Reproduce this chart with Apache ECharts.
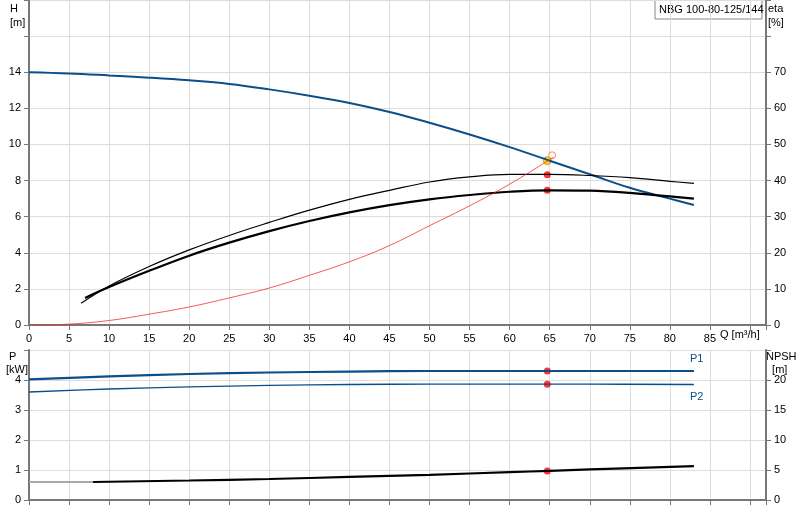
<!DOCTYPE html><html><head><meta charset="utf-8"><script src="https://cdn.jsdelivr.net/npm/echarts@6/dist/echarts.min.js"></script></head><body style="margin:0"><div id="c" style="width:800px;height:520px"></div><script>
const qH=[0,5,10,15,20,25,30,35,40,45,50,55,60,65,70,75,80,83];
const hVals=[14,13.93,13.82,13.7,13.55,13.35,13.05,12.7,12.3,11.8,11.2,10.55,9.85,9.1,8.35,7.6,7.0,6.65];
const qEtaThick=[7,10,15,20,25,30,35,40,45,50,55,60,65,70,75,80,83];
const etaThick=[7.5,10.5,15,19.2,22.8,26,28.8,31.2,33.2,34.8,36,36.9,37.3,37.2,36.6,35.6,35];
const qEtaThin=[6.5,10,15,20,25,30,35,40,45,50,55,60,65,70,75,80,83];
const etaThin=[6,10.8,16.2,20.8,24.8,28.4,31.8,34.8,37.3,39.6,41,41.7,41.7,41.4,40.8,39.8,39.2];
const qSys=[0,5,10,15,20,25,30,35,40,45,50,55,60,65.5];
const hSys=[0,0.05,0.25,0.6,1.0,1.5,2.05,2.75,3.5,4.4,5.5,6.6,7.8,9.3];
const qP=[0,10,20,30,40,50,60,65,70,83];
const p1=[4.02,4.12,4.2,4.25,4.28,4.3,4.3,4.3,4.3,4.3];
const p2=[3.6,3.7,3.77,3.82,3.85,3.86,3.86,3.86,3.86,3.85];
const qN=[8,20,30,40,50,60,65,70,83];
const npshP=[0.6,0.65,0.7,0.77,0.84,0.93,0.97,1.02,1.13];
const dutyQ=64.7, dutyH=9.1, dutyEtaThin=41.6, dutyEtaThick=37.3, dutyP1=4.3, dutyP2=3.86, dutyN=0.97;
const z=(a,b)=>a.map((x,i)=>[x,b[i]]);
const ch=echarts.init(document.getElementById('c'));
const ax={axisLine:{show:true,lineStyle:{color:'#777',width:2}},axisTick:{show:true,lineStyle:{color:'#777'}},splitLine:{lineStyle:{color:'#ddd'}},axisLabel:{color:'#000',fontSize:11,fontFamily:'Arial'}};
const ln=(xi,yi,d,c,w,extra)=>Object.assign({type:'line',xAxisIndex:xi,yAxisIndex:yi,data:d,showSymbol:false,smooth:0.4,lineStyle:{color:c,width:w},silent:true},extra||{});
ch.setOption({animation:false,
grid:[{left:29,right:34,top:0,height:325},{left:29,right:34,top:350,height:150}],
xAxis:[Object.assign({},ax,{gridIndex:0,type:'value',min:0,max:92,interval:5,axisLabel:Object.assign({},ax.axisLabel,{formatter:v=>v<=85?v:''})}),
Object.assign({},ax,{gridIndex:1,type:'value',min:0,max:92,interval:5,axisLabel:{show:false}})],
yAxis:[Object.assign({},ax,{gridIndex:0,min:0,max:18,interval:2,axisLabel:Object.assign({},ax.axisLabel,{formatter:v=>v<=14?v:''})}),
Object.assign({},ax,{gridIndex:0,position:'right',min:0,max:90,interval:10,splitLine:{show:false},axisLabel:Object.assign({},ax.axisLabel,{formatter:v=>v<=70?v:''})}),
Object.assign({},ax,{gridIndex:1,min:0,max:5,interval:1,axisLabel:Object.assign({},ax.axisLabel,{formatter:v=>v<=4?v:''})}),
Object.assign({},ax,{gridIndex:1,position:'right',min:0,max:25,interval:5,splitLine:{show:false},axisLabel:Object.assign({},ax.axisLabel,{formatter:v=>v<=20?v:''})})],
series:[
ln(0,0,z(qH,hVals),'#0b4f8a',2),
ln(0,1,z(qEtaThin,etaThin),'#000',1.2),
ln(0,1,z(qEtaThick,etaThick),'#000',2.2),
ln(0,0,z(qSys,hSys),'#f03030',0.8),
ln(1,2,z(qP,p1),'#0b4f8a',2.2,{endLabel:{show:true,formatter:'P1',color:'#0b4f8a',fontSize:11,offset:[-12,-12]}}),
ln(1,2,z(qP,p2),'#0b4f8a',1.3,{endLabel:{show:true,formatter:'P2',color:'#0b4f8a',fontSize:11,offset:[-12,12]}}),
ln(1,2,[[0,0.6],[8,0.6]],'#aaa',2,{smooth:false}),
ln(1,2,z(qN,npshP),'#000',2.2),
{type:'scatter',xAxisIndex:0,yAxisIndex:0,data:[[65.3,9.4]],symbolSize:7,itemStyle:{color:'#fff',borderColor:'#f07030',borderWidth:1}},
{type:'scatter',xAxisIndex:0,yAxisIndex:0,data:[[dutyQ,dutyH]],symbolSize:8,itemStyle:{color:'#ffcc00',borderColor:'#e08000',borderWidth:1}},
{type:'scatter',xAxisIndex:0,yAxisIndex:1,data:[[dutyQ,dutyEtaThin],[dutyQ,dutyEtaThick]],symbolSize:7,itemStyle:{color:'#ff0000'}},
{type:'scatter',xAxisIndex:1,yAxisIndex:2,data:[[dutyQ,dutyP1],[dutyQ,dutyP2],[dutyQ,dutyN]],symbolSize:7,itemStyle:{color:'#ff0000'}}
],
graphic:[
{type:'text',left:10,top:2,style:{text:'H\n[m]',fill:'#000',font:'11px Arial',align:'center',lineHeight:14}},
{type:'text',left:768,top:2,style:{text:'eta\n[%]',fill:'#000',font:'11px Arial',lineHeight:14}},
{type:'text',left:720,top:329,style:{text:'Q [m³/h]',fill:'#000',font:'11px Arial'}},
{type:'text',left:6,top:350,style:{text:' P\n[kW]',fill:'#000',font:'11px Arial',lineHeight:13}},
{type:'text',left:766,top:350,style:{text:'NPSH\n  [m]',fill:'#000',font:'11px Arial',lineHeight:13}},
{type:'rect',shape:{x:655,y:0,width:107,height:19},style:{fill:'#fff',stroke:'#888',lineWidth:1}},
{type:'text',left:659,top:4,style:{text:'NBG 100-80-125/144',fill:'#000',font:'11px Arial'}}
]});
</script></body></html>
